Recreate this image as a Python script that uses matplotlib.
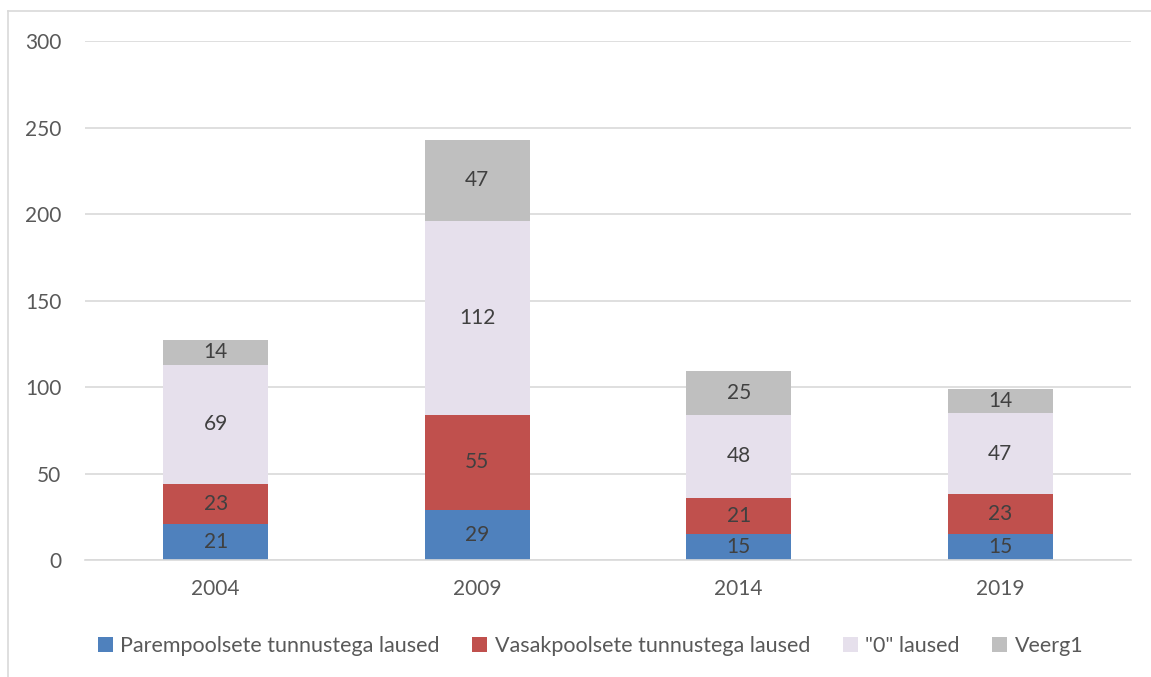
import numpy as np
import matplotlib.pyplot as plt
from matplotlib.lines import Line2D

plt.rcParams['font.family'] = ['Lato', 'DejaVu Sans']

years = ["2004", "2009", "2014", "2019"]
parem = [21, 29, 15, 15]
vasak = [23, 55, 21, 23]
null_laused = [69, 112, 48, 47]
veerg1 = [14, 47, 25, 14]

series = [
    ("Parempoolsete tunnustega laused", parem, "#4F81BD"),
    ("Vasakpoolsete tunnustega laused", vasak, "#C0504D"),
    ('"0" laused', null_laused, "#E6E0EC"),
    ("Veerg1", veerg1, "#BFBFBF"),
]

fig = plt.figure(figsize=(11.51, 6.77), dpi=100)
ax = fig.add_axes([0.0738, 0.1728, 0.9088, 0.7666])

x = np.arange(len(years))
bottom = np.zeros(len(years))
for name, vals, color in series:
    bars = ax.bar(x, vals, width=0.4, bottom=bottom, color=color, label=name, zorder=2)
    ax.bar_label(bars, labels=[str(v) for v in vals], label_type='center',
                 fontsize=15, color='#404040')
    bottom += np.array(vals)

ax.set_xlim(-0.5, len(years) - 0.5)
ax.set_ylim(0, 300)
ax.set_yticks(range(0, 301, 50))
ax.set_xticks(x)
ax.set_xticklabels(years)
ax.grid(axis='y', color='#D9D9D9', linewidth=1.2, zorder=0)
ax.tick_params(length=0, labelsize=15, labelcolor='#595959')
ax.tick_params(axis='y', pad=17)
ax.tick_params(axis='x', pad=14)
for s in ['top', 'right', 'left']:
    ax.spines[s].set_visible(False)
ax.spines['bottom'].set_color('#D9D9D9')
ax.spines['bottom'].set_linewidth(1.2)

leg = fig.legend(loc='center', bbox_to_anchor=(0.5 + 15 / 1151, 1 - 646 / 677), ncol=4,
                 frameon=False, fontsize=15.5, handlelength=0.7, handleheight=0.7,
                 handletextpad=0.35, columnspacing=1.5, labelcolor='#595959')

# outer chart frame (only top and left edges visible)
fig.add_artist(Line2D([8 / 1151, 8 / 1151], [0, 1 - 11 / 677], transform=fig.transFigure,
                      color='#D9D9D9', linewidth=1.2))
fig.add_artist(Line2D([8 / 1151, 1], [1 - 11 / 677, 1 - 11 / 677], transform=fig.transFigure,
                      color='#D9D9D9', linewidth=1.2))

fig.savefig("out.png", dpi=100)
